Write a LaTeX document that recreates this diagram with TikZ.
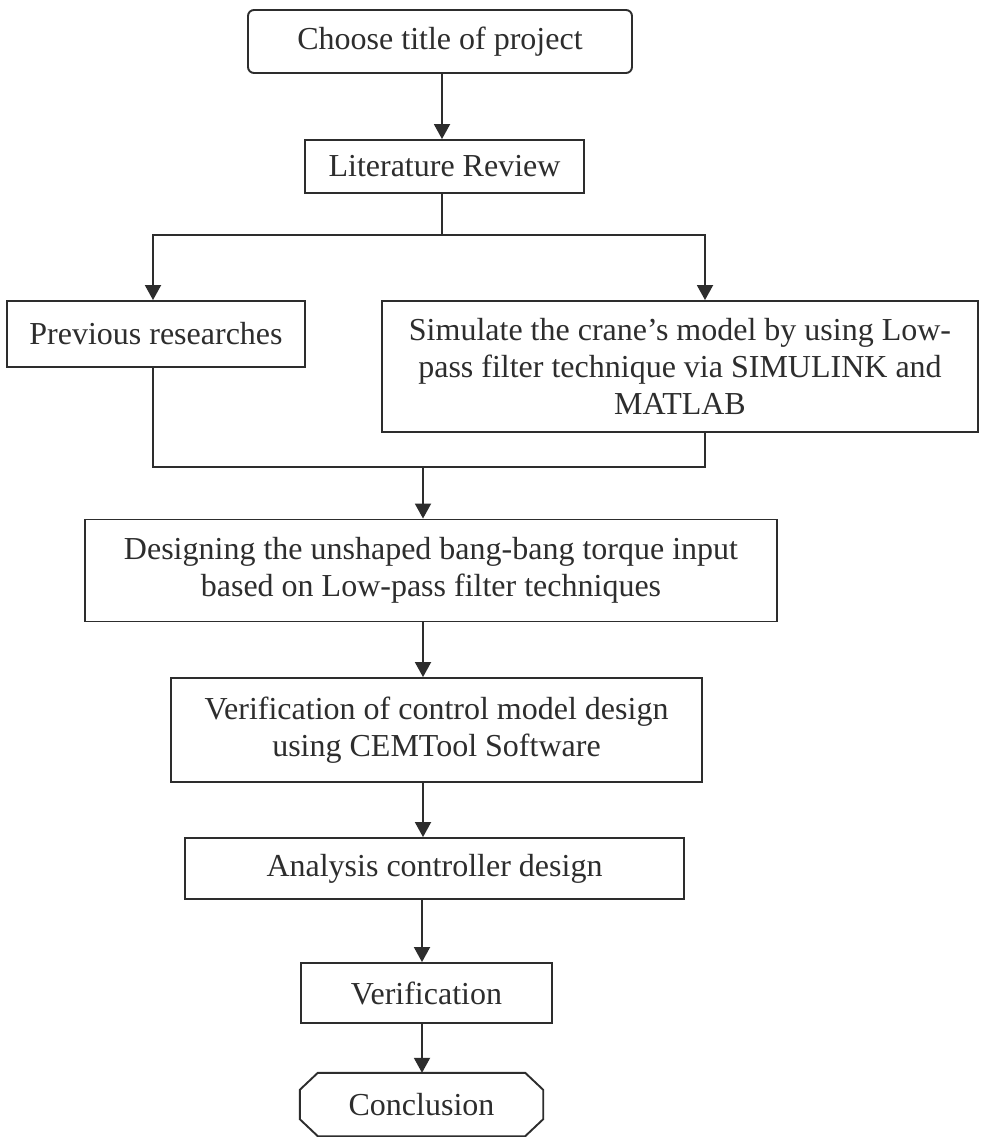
\documentclass[tikz,border=0pt]{standalone}
\usepackage{fontspec}
\setmainfont{Liberation Serif}
\usetikzlibrary{arrows.meta}
\definecolor{ink}{RGB}{45,45,45}
\begin{document}
\begin{tikzpicture}[x=1pt,y=-1pt,
  box/.style={draw=ink, line width=1.9pt, inner sep=0pt, align=center, text=ink,
              font=\fontsize{32}{37}\selectfont},
  plain/.style={inner sep=0pt, align=center, text=ink, font=\fontsize{32}{37}\selectfont},
  link/.style={draw=ink, line width=1.9pt},
  arrow/.style={link, -{Triangle[length=15pt,width=16pt]}}]
\useasboundingbox[fill=white] (0,0) rectangle (981,1137);

\node[box, rounded corners=6pt, minimum width=384pt, minimum height=63pt] (title) at (440,41.5) {Choose title of project};
\node[box, minimum width=279pt, minimum height=53pt] (lit) at (444.5,166.5) {Literature Review};
\node[box, minimum width=298pt, minimum height=66pt] (prev) at (156,334) {Previous researches};
\node[box, minimum width=596pt, minimum height=131pt] (sim) at (680,366.5) {Simulate the crane’s model by using Low-\\pass filter technique via SIMULINK and\\MATLAB};
\node[box, minimum width=692pt, minimum height=102pt] (design) at (431,570.5) {Designing the unshaped bang-bang torque input\\based on Low-pass filter techniques};
\node[box, minimum width=531pt, minimum height=104pt] (vctrl) at (436.5,730) {Verification of control model design\\using CEMTool Software};
\node[box, minimum width=499pt, minimum height=61pt] (analysis) at (434.5,868.5) {Analysis controller design};
\node[box, minimum width=251pt, minimum height=60pt] (verif) at (426.5,993) {Verification};
\node[plain, minimum width=243pt, minimum height=63pt] (concl) at (421.5,1104.5) {Conclusion};
\draw[link] ([xshift=18pt]concl.north west) -- ([xshift=-18pt]concl.north east)
  -- ([yshift=-17pt]concl.north east) -- ([yshift=17pt]concl.south east)
  -- ([xshift=-18pt]concl.south east) -- ([xshift=18pt]concl.south west)
  -- ([yshift=17pt]concl.south west) -- ([yshift=-17pt]concl.north west) -- cycle;

\coordinate (c1) at (442,0);
\coordinate (bl) at (153,235);
\coordinate (br) at (705,235);
\coordinate (jl) at (153,467);
\coordinate (jr) at (705,467);
\coordinate (jc) at (423,467);
\coordinate (c2) at (423,0);
\coordinate (c3) at (422,0);

\draw[arrow] (title.south -| c1) -- (lit.north -| c1);
\draw[arrow] (lit.south -| c1) |- (bl) -- (prev.north -| bl);
\draw[arrow] (lit.south -| c1) |- (br) -- (sim.north -| br);
\draw[link] (prev.south -| jl) -- (jl) -- (jr) -- (sim.south -| jr);
\draw[arrow] (jc) -- (design.north -| jc);
\draw[arrow] (design.south -| c2) -- (vctrl.north -| c2);
\draw[arrow] (vctrl.south -| c2) -- (analysis.north -| c2);
\draw[arrow] (analysis.south -| c3) -- (verif.north -| c3);
\draw[arrow] (verif.south -| c3) -- (concl.north -| c3);
\end{tikzpicture}
\end{document}
